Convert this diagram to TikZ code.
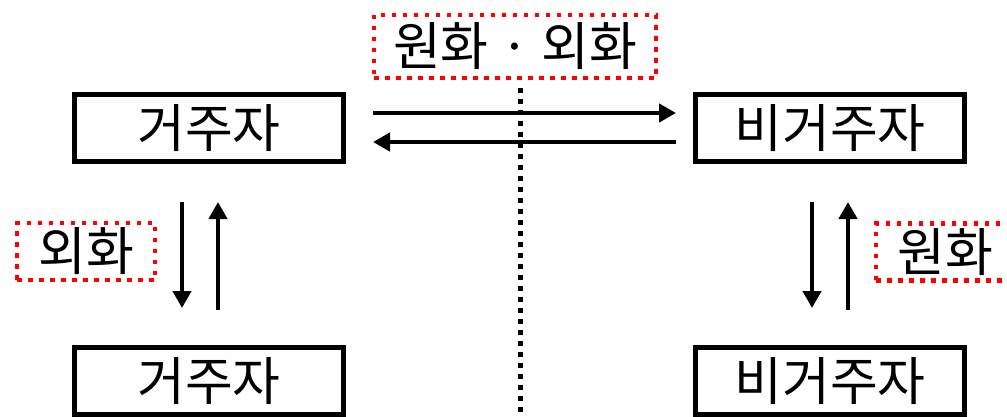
\documentclass[tikz,border=0pt]{standalone}
\usepackage{fontspec}
\setmainfont{Noto Sans CJK KR}
\usetikzlibrary{arrows.meta}
\tikzset{
  party/.style={draw=black, line width=5pt, minimum width=269pt, minimum height=67pt, inner sep=0pt, font=\fontsize{52}{56}\selectfont},
  tag/.style={draw=red, line width=4.5pt, dash pattern=on 4.5pt off 6.5pt, inner sep=0pt, font=\fontsize{52}{56}\selectfont},
  flow/.style={line width=4.5pt, -{Triangle[length=17pt,width=18pt]}},
  divider/.style={line width=5pt, dash pattern=on 5pt off 6pt}
}
\begin{document}
\begin{tikzpicture}[x=1pt,y=-1pt]
\useasboundingbox (0,0) rectangle (1007,417);
\clip (0,0) rectangle (1007,417);
\fill[white] (0,0) rectangle (1007,417);
\node[party] (tl) at (209,128) {거주자};
\node[party] (tr) at (830,128) {비거주자};
\node[party] (bl) at (209,381) {거주자};
\node[party] (br) at (830,381) {비거주자};
\node[tag, minimum width=282pt, minimum height=63pt] (cur) at (515,46.5) {원화 · 외화};
\node[tag, minimum width=138pt, minimum height=57pt] (fx) at (86,251.5) {외화};
\node[tag, minimum width=138pt, minimum height=57pt] (krw) at (945,252) {원화};
\coordinate (dtop) at (520,88);
\coordinate (dbot) at (520,425);
\draw[divider] (dtop) -- (dbot);
\draw[flow] ([shift={(27,-15)}]tl.east) -- ([shift={(-17,-15)}]tr.west);
\draw[flow] ([shift={(-17,14)}]tr.west) -- ([shift={(27,14)}]tl.east);
\draw[flow] ([shift={(-27,38)}]tl.south) -- ([shift={(-27,-37)}]bl.north);
\draw[flow] ([shift={(9,-35)}]bl.north) -- ([shift={(9,38)}]tl.south);
\draw[flow] ([shift={(-18,38)}]tr.south) -- ([shift={(-18,-37)}]br.north);
\draw[flow] ([shift={(18,-35)}]br.north) -- ([shift={(18,38)}]tr.south);
\end{tikzpicture}
\end{document}
